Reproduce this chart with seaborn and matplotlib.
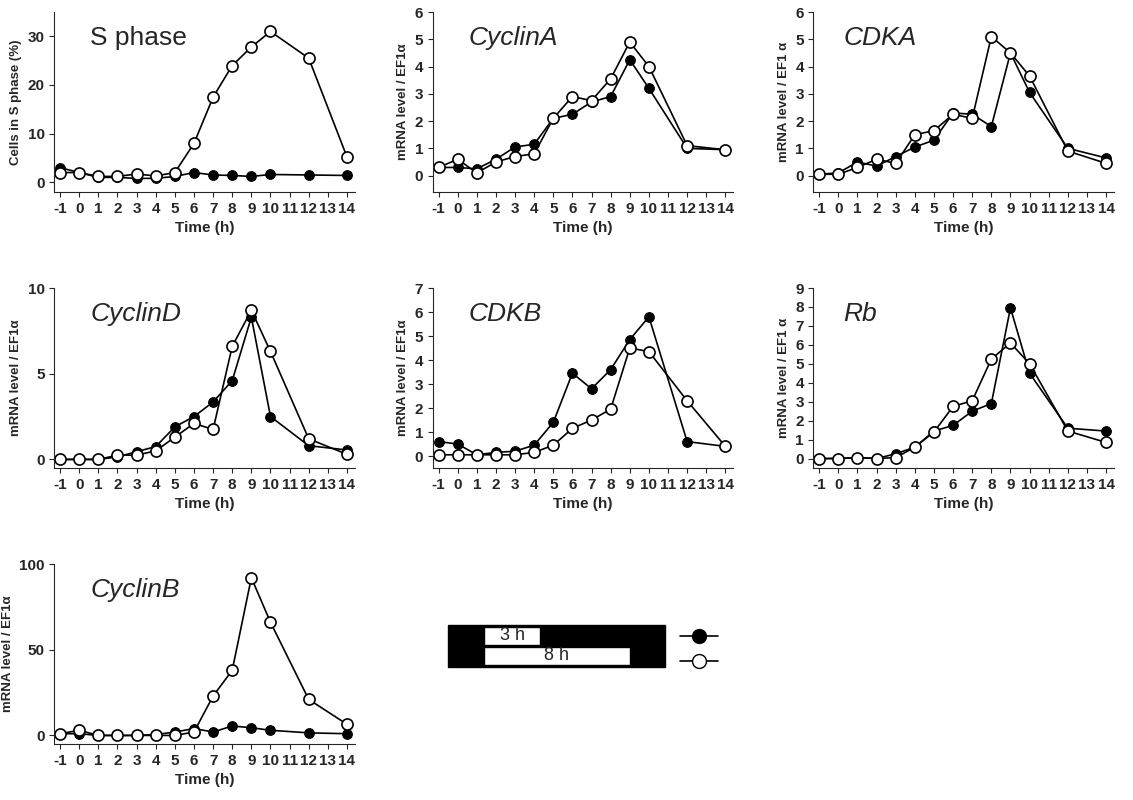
import numpy as np
import pandas as pd
import seaborn as sns
import matplotlib.pyplot as plt
from matplotlib.patches import Rectangle
from matplotlib.lines import Line2D

time = [-1, 0, 1, 2, 3, 4, 5, 6, 7, 8, 9, 10, 12, 14]

sphase_fill = [3, 2, 1, 1, 0.8, 0.8, 1.2, 2, 1.5, 1.4, 1.2, 1.6, 1.5, 1.4]
sphase_open = [2, 2, 1.2, 1.2, 1.7, 1.3, 2, 8, 17.5, 24, 27.8, 31, 25.5, 5.2]
cyca_fill = [.3, .3, .25, .6, 1.05, 1.15, 2.1, 2.25, 2.7, 2.9, 4.25, 3.2, 1.0, .95]
cyca_open = [.3, .6, .1, .5, .7, .8, 2.1, 2.9, 2.75, 3.55, 4.9, 4.0, 1.1, .95]
cdka_fill = [.05, .1, .5, .35, .7, 1.05, 1.3, 2.3, 2.25, 1.8, 4.5, 3.05, 1.0, .65]
cdka_open = [.05, .05, .3, .6, .45, 1.5, 1.65, 2.25, 2.1, 5.1, 4.5, 3.65, .9, .45]
cycd_fill = [0, 0, 0, .15, .45, .75, 1.9, 2.5, 3.35, 4.6, 8.3, 2.5, .8, .55]
cycd_open = [0, 0, 0, .25, .25, .5, 1.3, 2.1, 1.75, 6.6, 8.7, 6.3, 1.2, .3]
cdkb_fill = [.6, .5, .05, .15, .2, .45, 1.4, 3.45, 2.8, 3.6, 4.85, 5.8, .6, .4]
cdkb_open = [.05, .05, .05, .05, .05, .15, .45, 1.15, 1.5, 1.95, 4.5, 4.35, 2.3, .4]
rb_fill = [0, 0, .05, 0, .25, .6, 1.45, 1.75, 2.5, 2.9, 7.95, 4.5, 1.6, 1.45]
rb_open = [0, 0, .05, 0, .05, .6, 1.4, 2.75, 3.05, 5.25, 6.1, 5.0, 1.45, .85]
cycb_fill = [1, 1, 0, 0, 0, .5, 2, 4, 2, 5.5, 4.5, 3, 1.5, 1]
cycb_open = [1, 3, 0, 0, 0, 0, 0, 2, 23, 38, 92, 66, 21, 6.5]

# name, fill, open, ylim, yticks, ylabel, title style
panels = [
    ("S phase", sphase_fill, sphase_open, (-2, 35), [0, 10, 20, 30], "Cells in S phase (%)", "normal"),
    ("CyclinA", cyca_fill, cyca_open, (-0.6, 6), range(7), "mRNA level / EF1\u03b1", "italic"),
    ("CDKA", cdka_fill, cdka_open, (-0.6, 6), range(7), "mRNA level / EF1 \u03b1", "italic"),
    ("CyclinD", cycd_fill, cycd_open, (-0.5, 10), [0, 5, 10], "mRNA level / EF1\u03b1", "italic"),
    ("CDKB", cdkb_fill, cdkb_open, (-0.5, 7), range(8), "mRNA level / EF1\u03b1", "italic"),
    ("Rb", rb_fill, rb_open, (-0.5, 9), range(10), "mRNA level / EF1 \u03b1", "italic"),
    ("CyclinB", cycb_fill, cycb_open, (-5, 100), [0, 50, 100], "mRNA level / EF1\u03b1", "italic"),
]

sns.set_style("ticks")
plt.rcParams['font.family'] = ['Liberation Sans', 'DejaVu Sans']

fig = plt.figure(figsize=(11.33, 8), dpi=100)
lefts = [0.048, 0.382, 0.718]
bottoms = [0.76, 0.415, 0.07]
w, h = 0.265, 0.225

for i, (name, yf, yo, ylim, yticks, ylabel, style) in enumerate(panels):
    r, c = divmod(i, 3)
    ax = fig.add_axes([lefts[c], bottoms[r], w, h])
    df = pd.DataFrame({"t": time, "fill": yf, "open": yo})
    sns.lineplot(data=df, x="t", y="fill", ax=ax, color="black", lw=1.2,
                 marker="o", markersize=7, markerfacecolor="black", markeredgecolor="black")
    sns.lineplot(data=df, x="t", y="open", ax=ax, color="black", lw=1.2,
                 marker="o", markersize=8, markerfacecolor="white", markeredgecolor="black",
                 markeredgewidth=1.2)
    ax.set_xlim(-1.3, 14.4)
    ax.set_ylim(*ylim)
    ax.set_xticks(range(-1, 15))
    ax.set_xticklabels([str(t) for t in range(-1, 15)], fontweight="bold", fontsize=11)
    ax.set_yticks(list(yticks))
    ax.set_yticklabels([str(v) for v in yticks], fontweight="bold", fontsize=11)
    ax.set_xlabel("Time (h)", fontweight="bold", fontsize=11)
    ax.set_ylabel(ylabel, fontweight="bold", fontsize=9.5)
    ax.text(0.12 if c != 2 else 0.1, 0.92, name, transform=ax.transAxes, fontsize=19,
            style=style, va="top", ha="left")
    sns.despine(ax=ax)
    ax.spines["bottom"].set_bounds(-1.3, 14.4)

# schematic legend, drawn in figure pixel coordinates
lx = fig.add_axes([0, 0, 1, 1], zorder=-1)
lx.set_xlim(0, 1133)
lx.set_ylim(800, 0)
lx.axis("off")
lx.add_patch(Rectangle((448, 625), 217, 42, color="black"))
lx.add_patch(Rectangle((484, 627), 56, 18, facecolor="white", edgecolor="black"))
lx.add_patch(Rectangle((484, 647), 146, 18, facecolor="white", edgecolor="black"))
lx.text(512, 636, "3 h", ha="center", va="center", fontsize=13)
lx.text(557, 656, "8 h", ha="center", va="center", fontsize=13)
lx.add_line(Line2D([680, 718], [636, 636], color="black", lw=1.2))
lx.plot([699], [636], "o", color="black", markersize=10)
lx.add_line(Line2D([680, 718], [661, 661], color="black", lw=1.2))
lx.plot([699], [661], "o", markerfacecolor="white", markeredgecolor="black", markersize=10)

fig.savefig("out.png", dpi=100)
